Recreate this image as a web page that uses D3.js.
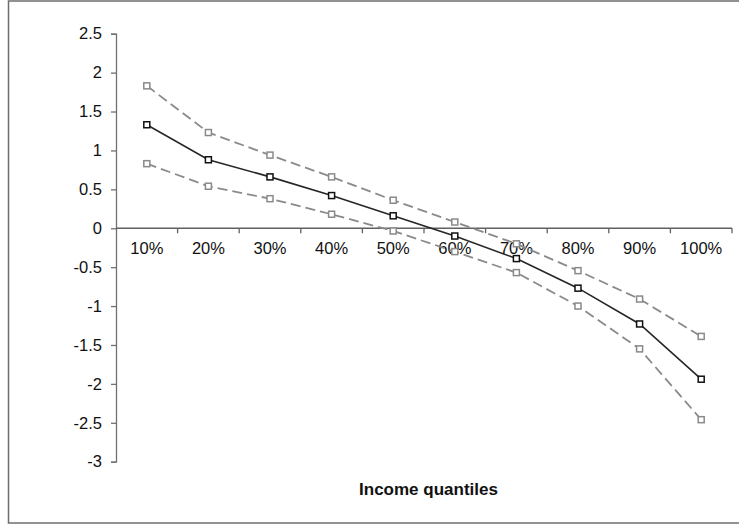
<!DOCTYPE html>
<html>
<head>
<meta charset="utf-8">
<script src="https://cdn.jsdelivr.net/npm/d3@7"></script>
<style>
  body { margin: 0; background: #fff; }
  svg { display: block; font-family: "Liberation Sans", Arial, sans-serif; }
</style>
</head>
<body>
<div id="chart"></div>
<script>
// data
var quantiles = ["10%", "20%", "30%", "40%", "50%", "60%", "70%", "80%", "90%", "100%"];
var estimate = [1.33, 0.88, 0.66, 0.42, 0.16, -0.10, -0.39, -0.77, -1.23, -1.94];
var upperBand = [1.83, 1.23, 0.94, 0.66, 0.36, 0.08, -0.20, -0.545, -0.91, -1.39];
var lowerBand = [0.83, 0.54, 0.38, 0.18, -0.035, -0.30, -0.57, -1.00, -1.55, -2.46];
var yTicks = [2.5, 2, 1.5, 1, 0.5, 0, -0.5, -1, -1.5, -2, -2.5, -3];

var width = 739, height = 525;

var svg = d3.select("#chart").append("svg")
    .attr("width", width)
    .attr("height", height);

//outer frame (right edge sits off the picture)
svg.append("rect")
    .attr("x", 8.5).attr("y", 1)
    .attr("width", 740).attr("height", 522)
    .attr("fill", "#fff")
    .attr("stroke", "#6e6e6e")
    .attr("stroke-width", 1.5);

var x = d3.scaleBand()
    .domain(quantiles)
    .range([116, 732])
    .paddingInner(0).paddingOuter(0);

var y = d3.scaleLinear()
    .domain([-3, 2.5])
    .range([461.7, 33.7]);

//y axis
var yAxis = svg.append("g")
    .attr("transform", "translate(" + x.range()[0] + ",0)")
    .call(d3.axisLeft(y)
        .tickValues(yTicks)
        .tickSize(5)
        .tickPadding(9)
        .tickFormat(function (d) { return String(d); }));
yAxis.select(".domain").attr("stroke", "#707070").attr("stroke-width", 1.3);
yAxis.selectAll(".tick line").attr("stroke", "#707070").attr("stroke-width", 1.3);
yAxis.selectAll(".tick text")
    .attr("fill", "#111")
    .style("font-size", "16.5px")
    .style("font-family", "'Liberation Sans', Arial, sans-serif");

//x axis along zero, ticks at the category edges
var y0 = y(0);
var xAxis = svg.append("g").attr("class", "x-axis");
xAxis.append("line")
    .attr("x1", x.range()[0]).attr("x2", x.range()[1])
    .attr("y1", y0).attr("y2", y0)
    .attr("stroke", "#606060").attr("stroke-width", 1.3);
xAxis.selectAll(".edge")
    .data(quantiles)
    .enter().append("line")
    .attr("x1", function (d) { return x(d) + x.bandwidth(); })
    .attr("x2", function (d) { return x(d) + x.bandwidth(); })
    .attr("y1", y0).attr("y2", y0 + 5)
    .attr("stroke", "#606060").attr("stroke-width", 1.3);
xAxis.selectAll("text")
    .data(quantiles)
    .enter().append("text")
    .attr("x", function (d) { return x(d) + x.bandwidth() / 2; })
    .attr("y", y0 + 26)
    .attr("text-anchor", "middle")
    .attr("fill", "#111")
    .style("font-size", "16.5px")
    .text(function (d) { return d; });

//axis title
svg.append("text")
    .attr("x", 428.5)
    .attr("y", 495)
    .attr("text-anchor", "middle")
    .attr("fill", "#111")
    .style("font-size", "17px")
    .style("font-weight", "bold")
    .text("Income quantiles");

var line = d3.line()
    .x(function (d, i) { return x(quantiles[i]) + x.bandwidth() / 2; })
    .y(function (d) { return y(d); });

var series = [
    {values: upperBand, color: "#8a8a8a", dash: "10,5"},
    {values: lowerBand, color: "#8a8a8a", dash: "10,5"},
    {values: estimate, color: "#262626", dash: null}
];

series.forEach(function (s) {
    var g = svg.append("g");
    g.append("path")
        .datum(s.values)
        .attr("fill", "none")
        .attr("stroke", s.color)
        .attr("stroke-width", s.dash ? 1.8 : 1.6)
        .attr("stroke-dasharray", s.dash)
        .attr("d", line);
    g.selectAll("rect")
        .data(s.values)
        .enter().append("rect")
        .attr("x", function (d, i) { return x(quantiles[i]) + x.bandwidth() / 2 - 3; })
        .attr("y", function (d) { return y(d) - 3; })
        .attr("width", 6).attr("height", 6)
        .attr("fill", "#fff")
        .attr("stroke", s.dash ? "#8a8a8a" : "#111")
        .attr("stroke-width", 1.5);
});
</script>
</body>
</html>
